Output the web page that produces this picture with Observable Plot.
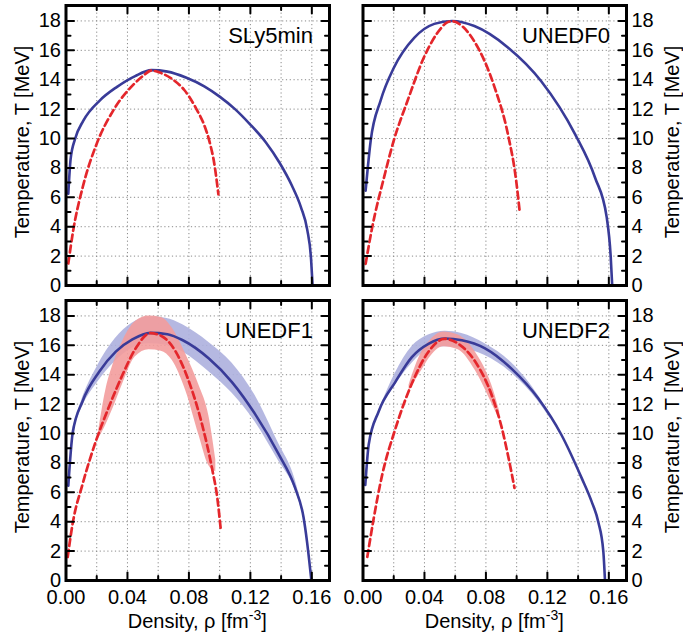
<!DOCTYPE html>
<html><head><meta charset="utf-8">
<script src="https://cdn.jsdelivr.net/npm/d3@7"></script>
<script src="https://cdn.jsdelivr.net/npm/@observablehq/plot@0.6"></script>
<style>
body{margin:0;background:#fff;}
#wrap{position:relative;width:683px;height:642px;}
#wrap svg{position:absolute;overflow:visible;}
</style></head><body><div id="wrap"></div>
<script>
// ---- data (rho [fm^-3], T [MeV]) ----
const panelNames = ["SLy5min", "UNEDF0", "UNEDF1", "UNEDF2"];
const xLabelTicks = [0, 0.04, 0.08, 0.12, 0.16];
const xGridTicks = [0.02, 0.04, 0.06, 0.08, 0.10, 0.12, 0.14, 0.16];
const xMajorTicks = [0.04, 0.08, 0.12, 0.16];
const xMinorTicks = [0.02, 0.06, 0.10, 0.14];
const yLabelTicks = [0, 2, 4, 6, 8, 10, 12, 14, 16, 18];
const yGridTicks = [2, 4, 6, 8, 10, 12, 14, 16, 18];
const yMinorTicks = [1, 3, 5, 7, 9, 11, 13, 15, 17];
const xTitle = "Density, ρ [fm";
const xTitleSup = "-3";
const yTitle = "Temperature, T [MeV]";

const sly5minSolid = [[0.0015,6.25],[0.003,8.6],[0.006,10.0],[0.0112,11.2],[0.0221,12.6],[0.033,13.5],[0.045,14.25],[0.0556,14.65],[0.066,14.55],[0.078,14.15],[0.09,13.55],[0.100,12.85],[0.11,12.0],[0.1195,11.0],[0.13,9.75],[0.139,8.35],[0.147,6.8],[0.153,5.3],[0.157,3.8],[0.1595,1.8],[0.1605,0]];
const sly5minDashed = [[0.0015,1.5],[0.0047,3.75],[0.0109,6.7],[0.020,9.65],[0.0307,11.9],[0.0437,13.65],[0.050,14.25],[0.0556,14.62],[0.062,14.45],[0.0697,14.0],[0.077,13.3],[0.0849,12.0],[0.090,10.9],[0.0935,9.75],[0.0965,8.3],[0.0992,6.2]];

const unedf0Solid = [[0.0017,6.45],[0.005,9.85],[0.0115,12.6],[0.020,14.8],[0.0333,16.85],[0.0464,17.8],[0.058,18.0],[0.0725,17.65],[0.0943,16.2],[0.116,13.9],[0.138,10.3],[0.151,7.35],[0.1586,4.65],[0.1612,2.0],[0.1622,0]];
const unedf0Dashed = [[0.0017,1.47],[0.006,3.96],[0.0137,7.36],[0.020,9.85],[0.029,12.57],[0.040,15.6],[0.0507,17.5],[0.054,17.85],[0.058,17.98],[0.065,17.6],[0.0725,16.6],[0.0856,13.5],[0.0943,10.3],[0.0997,7.13],[0.1019,5.1]];

const unedf1Solid = [[0.0015,6.45],[0.0043,10.0],[0.0108,12.2],[0.0216,14.2],[0.0324,15.57],[0.0432,16.4],[0.055,16.85],[0.066,16.75],[0.0757,16.36],[0.093,15.1],[0.108,13.5],[0.1232,11.3],[0.1384,8.6],[0.149,6.33],[0.1546,4.3],[0.1568,2.7],[0.1597,0]];
const unedf1Dashed = [[0.0011,1.6],[0.0043,3.86],[0.0108,6.56],[0.0195,9.5],[0.0281,11.85],[0.0368,14.0],[0.0454,15.8],[0.0548,16.83],[0.0627,16.6],[0.0714,15.57],[0.080,13.54],[0.0886,10.6],[0.0951,7.6],[0.0985,5.6],[0.1007,3.5]];
const unedf1SolidBand = [[0.004,10.0,10.2],[0.011,11.9,12.5],[0.020,13.4,14.5],[0.032,14.9,16.45],[0.043,15.8,17.5],[0.054,16.1,17.95],[0.065,16.0,17.85],[0.076,15.55,17.4],[0.093,14.2,16.2],[0.108,12.75,14.8],[0.123,10.8,12.6],[0.138,8.2,9.4],[0.149,6.2,6.9],[0.155,4.2,4.4]];
const unedf1DashedBand = [[0.021,9.6,10.0],[0.026,10.6,13.0],[0.031,11.8,14.8],[0.037,13.4,16.3],[0.045,15.2,17.6],[0.054,15.7,18.0],[0.062,15.6,17.9],[0.069,15.0,17.2],[0.078,12.9,15.4],[0.0865,9.9,13.3],[0.093,7.8,11.2],[0.0975,7.4,8.2]];

const unedf2Solid = [[0.0015,6.5],[0.0037,9.24],[0.0102,11.5],[0.021,13.5],[0.0318,15.2],[0.0426,16.1],[0.0535,16.46],[0.0643,16.35],[0.0794,15.8],[0.0968,14.4],[0.114,12.4],[0.1292,9.9],[0.1422,7.0],[0.1487,5.4],[0.1531,4.0],[0.1564,2.0],[0.1575,0]];
const unedf2Dashed = [[0.0028,1.6],[0.0071,4.3],[0.0123,7.1],[0.021,10.3],[0.0318,13.4],[0.0426,15.56],[0.053,16.44],[0.0621,16.1],[0.073,14.9],[0.0838,12.6],[0.0903,10.4],[0.0946,8.4],[0.0986,6.3]];
const unedf2SolidBand = [[0.012,11.8,12.0],[0.021,13.3,14.1],[0.0318,14.77,15.9],[0.0426,15.7,16.7],[0.0535,15.9,16.96],[0.0643,15.8,16.8],[0.0794,15.3,16.1],[0.0968,14.1,14.8],[0.114,12.2,12.6],[0.122,11.0,11.2]];
const unedf2DashedBand = [[0.030,12.9,13.3],[0.0383,14.3,15.56],[0.043,15.1,16.24],[0.0524,15.9,16.9],[0.062,15.7,16.7],[0.073,14.3,15.56],[0.0838,12.06,13.3],[0.089,10.9,11.5]];

// ---- drawing ----
const BLUE = "#393b98", RED = "#e4262b";
const BLUE_BAND = "#adb0de", RED_BAND = "#f39c9c";
const FONT = "'Liberation Sans', Arial, Helvetica, sans-serif";
const CURVE = "monotone-x";
const tickShape = {draw(ctx, l) { ctx.moveTo(0, 0); ctx.lineTo(0, -l); }};
const wrap = document.getElementById("wrap");

const panels = [
  {name: panelNames[0], solid: sly5minSolid, dashed: sly5minDashed, col: 0, row: 0},
  {name: panelNames[1], solid: unedf0Solid, dashed: unedf0Dashed, col: 1, row: 0},
  {name: panelNames[2], solid: unedf1Solid, dashed: unedf1Dashed, solidBand: unedf1SolidBand, dashedBand: unedf1DashedBand, col: 0, row: 1},
  {name: panelNames[3], solid: unedf2Solid, dashed: unedf2Dashed, solidBand: unedf2SolidBand, dashedBand: unedf2DashedBand, col: 1, row: 1}
];

for (const p of panels) {
  const left = p.col === 0, top = p.row === 0;
  const W = left ? 340 : 343, H = top ? 290 : 352;
  const frameL = left ? 65.5 : 22.5, frameR = left ? 329 : 286;
  const mt = top ? 5 : 10, mb = top ? 5 : 62;
  const marks = [
    Plot.gridX(xGridTicks, {stroke: "#8a8a8a", strokeOpacity: 1, strokeWidth: 1, strokeDasharray: "1.2,2.6"}),
    Plot.gridY(yGridTicks, {stroke: "#8a8a8a", strokeOpacity: 1, strokeWidth: 1, strokeDasharray: "1.2,2.6"})
  ];
  if (p.solidBand) marks.push(Plot.areaY(p.solidBand, {x: d => d[0], y1: d => d[1], y2: d => d[2], fill: BLUE_BAND, fillOpacity: 0.9, curve: CURVE}));
  if (p.dashedBand) marks.push(Plot.areaY(p.dashedBand, {x: d => d[0], y1: d => d[1], y2: d => d[2], fill: RED_BAND, fillOpacity: 0.9, curve: CURVE}));
  marks.push(
    Plot.line(p.solid, {x: d => d[0], y: d => d[1], stroke: BLUE, strokeWidth: 2.6, curve: CURVE}),
    Plot.line(p.dashed, {x: d => d[0], y: d => d[1], stroke: RED, strokeWidth: 2.7, strokeDasharray: "7,4", curve: CURVE})
  );
  // inward ticks on all four sides
  for (const [arr, len] of [[xMajorTicks, 8], [xMinorTicks, 4.5]]) {
    marks.push(Plot.vector(arr, {x: d => d, frameAnchor: "bottom", rotate: 0, length: len, anchor: "start", shape: tickShape, stroke: "black", strokeWidth: 2}));
    marks.push(Plot.vector(arr, {x: d => d, frameAnchor: "top", rotate: 180, length: len, anchor: "start", shape: tickShape, stroke: "black", strokeWidth: 2}));
  }
  for (const [arr, len] of [[yGridTicks, 8], [yMinorTicks, 4.5]]) {
    marks.push(Plot.vector(arr, {y: d => d, frameAnchor: "left", rotate: 90, length: len, anchor: "start", shape: tickShape, stroke: "black", strokeWidth: 2}));
    marks.push(Plot.vector(arr, {y: d => d, frameAnchor: "right", rotate: -90, length: len, anchor: "start", shape: tickShape, stroke: "black", strokeWidth: 2}));
  }
  marks.push(Plot.frame({stroke: "black", strokeWidth: 3}));
  marks.push(Plot.axisY({ticks: yLabelTicks, anchor: left ? "left" : "right", tickSize: 0, tickPadding: 5, label: null, fontSize: 20}));
  if (!top) marks.push(Plot.axisX({ticks: xLabelTicks, tickFormat: d => d.toFixed(2), tickSize: 0, tickPadding: 9, label: null, fontSize: 20}));
  marks.push(Plot.text([p.name], {x: () => 0.1607, y: () => 16.5, text: d => d, textAnchor: "end", lineAnchor: "bottom", fontSize: 22, fill: "black"}));

  const svg = Plot.plot({
    width: W, height: H,
    marginLeft: frameL, marginRight: W - frameR, marginTop: mt, marginBottom: mb,
    x: {domain: [0, 0.1715], axis: null},
    y: {domain: [0, 19.05], axis: null},
    style: {fontFamily: FONT, fontSize: "20px", color: "black", background: "transparent", overflow: "visible"},
    marks
  });
  svg.style.left = (left ? 0 : 340) + "px";
  svg.style.top = (top ? 0 : 290) + "px";
  const s = d3.select(svg);
  const cy = (mt + H - mb) / 2 - 3;
  const tx = left ? 22 : 332;
  s.append("text")
    .attr("transform", `translate(${tx},${cy}) rotate(-90)`)
    .attr("text-anchor", "middle").attr("dy", "0.36em")
    .attr("font-size", 20).attr("fill", "black")
    .text(yTitle);
  if (!top) {
    const cx = (frameL + frameR) / 2;
    const t = s.append("text").attr("x", cx).attr("y", 338).attr("text-anchor", "middle").attr("font-size", 20).attr("fill", "black");
    t.append("tspan").text(xTitle);
    t.append("tspan").attr("dy", -8).attr("font-size", 14).text(xTitleSup);
    t.append("tspan").attr("dy", 8).text("]");
  }
  wrap.appendChild(svg);
}
</script>
</body></html>
